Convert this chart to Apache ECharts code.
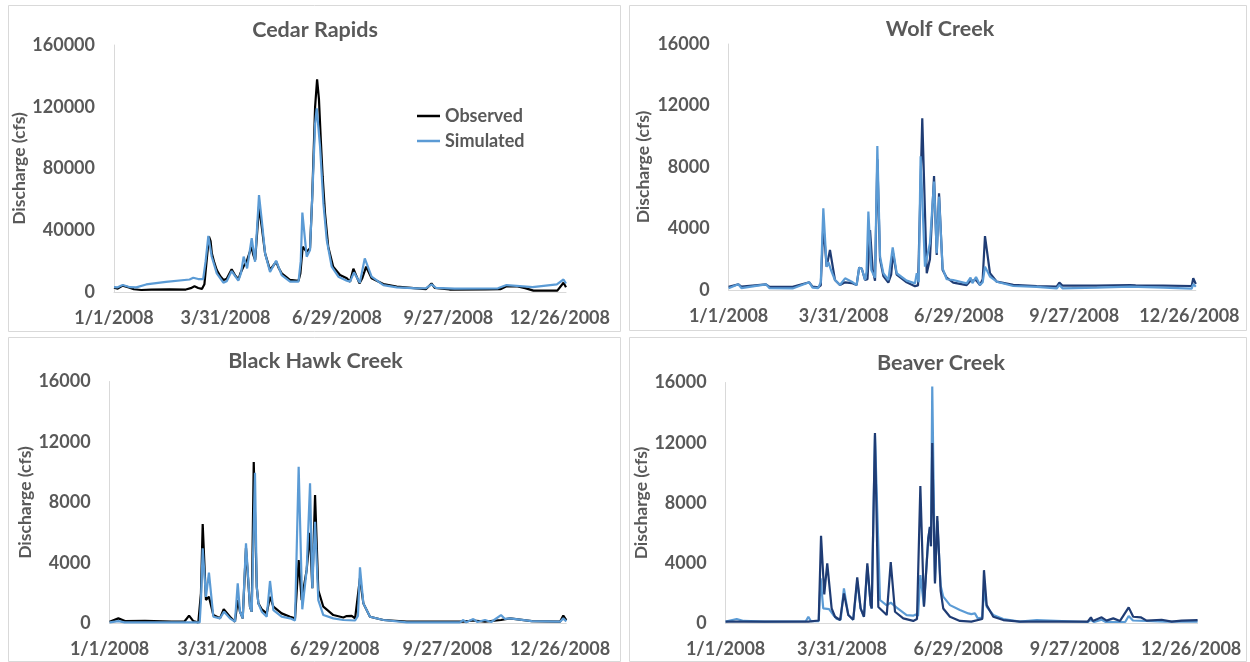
<!DOCTYPE html>
<html>
<head>
<meta charset="utf-8">
<script src="https://cdn.jsdelivr.net/npm/echarts@6/dist/echarts.min.js"></script>
<style>
  html, body { margin: 0; padding: 0; background: #fff; }
  #chart { width: 1250px; height: 662px; }
</style>
</head>
<body>
<div id="chart"></div>
<script>
// x values are day of year (0 = 1/1/2008), y values are discharge in cfs
const tickDays = [0, 90, 180, 270, 360];
const tickLabels = ['1/1/2008', '3/31/2008', '6/29/2008', '9/27/2008', '12/26/2008'];

const cedarObs = [[0,2800],[3,2200],[7,4100],[12,3000],[16,1800],[22,1300],[30,1500],[45,1700],[58,1600],[62,2500],[65,3700],[68,2600],[71,2000],[73,5000],[75,22000],[76.7,35800],[78,33000],[79,25000],[81,19000],[83,14200],[86,10000],[88.5,7800],[91,8500],[95,14700],[98,10500],[100.5,8200],[102,12000],[104.5,16400],[107,19600],[109.3,25000],[111.2,29300],[112.5,24000],[114,20700],[117.1,55300],[119.3,42300],[122,25000],[126,14250],[129,17500],[131,19600],[133,15500],[135.4,12100],[142,7800],[149,7300],[150.5,12000],[152.4,29300],[155.6,26100],[158.3,28300],[160,60000],[162.4,120000],[164,137800],[165.5,125000],[167,98500],[168.5,74700],[170.4,51000],[173,29300],[177,16400],[182.5,11000],[188,8850],[190.6,6700],[193.3,15100],[198.2,5600],[200.5,9000],[203.6,16400],[208,8850],[217.5,5200],[228.3,3450],[244.5,2400],[252,1900],[256.4,5500],[259,2700],[271,1600],[300,1700],[312,1800],[317,3700],[325,3700],[332,2500],[338.7,900],[358,900],[363,6000],[365,3100]];
const cedarSim = [[0,3100],[3,3000],[7,4500],[13,3100],[18,3000],[26,4900],[42,6600],[61,8100],[64,9200],[68,8400],[72,8400],[74,20000],[76.2,36300],[78.9,23000],[83,12100],[88.3,6000],[91,7000],[95,13600],[100.4,7300],[102.5,12000],[104.7,22900],[107.5,15300],[111.2,34800],[113.9,19600],[117.1,62800],[119.3,46600],[122,25000],[126,13000],[130.9,20300],[135.4,11000],[142.2,6700],[149,6700],[150.8,20000],[152.1,51400],[155.6,22900],[158.3,27200],[160.5,70000],[162.4,109000],[163.7,119000],[166.4,94100],[169.1,57400],[171.8,33700],[175.8,16400],[181.2,9900],[188,7300],[190.6,6700],[193.8,12700],[198.5,6000],[202.5,21800],[208,9900],[217.5,4500],[228.3,3000],[245,2400],[252,2500],[256.4,4900],[260,2700],[275,2200],[310,2400],[317,4500],[325,4000],[338,3100],[357.6,4900],[363,8100],[365,5500]];

const wolfObs = [[0,215],[7.6,370],[10,215],[29.2,370],[32,200],[50,200],[63,500],[65.6,215],[70,170],[72,300],[74,4200],[76.6,1520],[79.2,2600],[83.1,650],[87,325],[91,500],[96.2,450],[100,320],[102,1450],[104,1400],[106.6,650],[108.5,700],[110.5,3900],[112.6,1300],[114.4,600],[116.2,8500],[118.3,2000],[120.9,900],[124.8,480],[127,1000],[128.5,2400],[131.3,1000],[139.1,500],[145.6,250],[148,300],[151.3,11170],[154.8,1090],[157.3,2000],[160.5,7410],[162.6,2280],[164.4,6290],[167.2,1300],[170.4,800],[175.5,480],[186,320],[189,600],[193.3,650],[196.4,320],[198.5,700],[200.3,3510],[204.2,1090],[209.5,540],[222.4,330],[240.7,250],[256.3,215],[258.4,480],[261,280],[287.6,280],[313.6,325],[315,390],[318,300],[339.6,280],[361.8,260],[363,760],[365,390]];
const wolfSim = [[0,120],[7.6,370],[10,120],[29.2,370],[32,120],[50,100],[63,500],[65.6,150],[70,120],[72,500],[74,5310],[76.6,1500],[78,1800],[80,1300],[83.1,650],[87,325],[91,760],[96.2,540],[100,320],[102,1450],[104,1400],[106.6,650],[107.8,1200],[109.2,5100],[111.5,1300],[114.4,800],[116.2,9370],[118.3,2170],[120.9,1090],[124.8,650],[128.2,2770],[131.3,1090],[139.1,610],[145.6,430],[147,1090],[148.5,500],[150,8700],[153.4,1520],[157.3,3040],[160.5,7050],[162.6,2400],[164.4,6070],[167.2,1400],[170.4,700],[175.5,650],[186,430],[189,800],[190.5,450],[193.3,850],[196.4,320],[198.5,500],[200.3,1520],[204.2,870],[209.5,540],[222.4,260],[240.7,200],[256.3,100],[258.4,325],[261,100],[287.6,150],[313.6,215],[339.6,150],[361.8,90],[363,390],[365,215]];

const hawkObs = [[0,120],[7,340],[12.3,160],[28.3,180],[49.6,120],[60,150],[63.5,520],[66.9,160],[70.9,70],[73,2000],[74.4,6580],[77,1550],[79.4,1770],[82.9,560],[88.2,340],[91.2,940],[96.2,450],[100.2,120],[102.4,1550],[104.2,780],[106.4,340],[109,5000],[112.2,1100],[113.6,780],[115.2,10680],[117.6,2440],[118.9,1330],[121.6,940],[125.6,670],[128.2,1770],[130.9,1110],[137.5,670],[144.2,450],[148.2,340],[151.1,4200],[153.5,1550],[157.5,3540],[160.2,6000],[162,2330],[164.2,8500],[166.8,2200],[170.8,1110],[178.8,560],[186.8,400],[189.5,490],[191,400],[193.5,510],[196.2,340],[200.1,3000],[202.8,1330],[208.1,450],[218.8,230],[237.5,120],[282.7,120],[290.7,200],[300,120],[312.8,230],[320,340],[337.4,160],[360,120],[362.6,520],[365,230]];
const hawkSim = [[0,70],[7,160],[12,70],[60,70],[72,70],[73,1500],[74.4,4970],[77,1760],[79.4,3360],[82.9,450],[88.2,340],[91.5,780],[96.2,340],[100.2,120],[102.4,2660],[104.2,780],[106.4,340],[109,5300],[112.2,1100],[113.6,780],[116.2,9970],[117.6,2440],[118.9,1330],[121.6,780],[125.6,450],[128.2,2810],[130.9,890],[137.5,450],[144.2,340],[148.2,200],[151.1,10370],[154,940],[157.5,3540],[160.2,9270],[162,2330],[164.2,6730],[166.8,1550],[170.8,560],[178.8,340],[186.8,230],[196.2,200],[198.5,500],[200.1,3710],[202.8,1330],[208.1,450],[218.8,230],[237.5,80],[280,80],[282.7,230],[285,80],[290.7,290],[294,100],[300,230],[305,100],[312.8,560],[316,300],[320,340],[337.4,160],[360,120],[362.6,340],[365,140]];

const beaverObs = [[0,120],[64,120],[72,200],[73.8,5820],[76.3,1930],[78.6,3990],[82,1000],[84.6,450],[88.5,230],[91.5,2000],[94.9,560],[98.7,250],[101.8,3060],[104.4,1000],[107,450],[109.6,3990],[112.2,1220],[113,1000],[115.5,12640],[118.1,1100],[124.6,560],[127.7,4080],[131,780],[137.4,340],[145.1,170],[148,300],[150.6,9130],[153.4,1110],[156.7,5640],[158,6410],[158.8,5130],[159.8,11980],[161.9,2660],[163.7,7140],[166.3,2170],[168.3,1000],[173.5,450],[181.2,170],[190,120],[198.5,300],[199.8,3540],[201.9,1220],[207,450],[214.7,230],[227.6,120],[280,120],[282.5,410],[284,170],[290.8,410],[294.6,190],[299.8,340],[305,170],[311.7,1070],[315.2,450],[321,410],[325.6,190],[337.2,250],[345,120],[352.6,190],[365,230]];
const beaverSim = [[0,120],[8.6,300],[14,170],[30,120],[62,150],[64,450],[66,150],[72,150],[73.5,3000],[75.5,1000],[80,950],[83,600],[86,300],[89,250],[91.5,2330],[94.9,560],[98.7,250],[101.8,2800],[104.4,1000],[107,450],[109.6,3800],[112.2,1220],[113,1000],[115.5,12500],[119.4,1560],[124.6,1200],[127.7,1380],[132.3,1050],[140,560],[145,520],[147,600],[148.8,500],[150.6,3210],[153.4,1200],[156.7,5640],[158,6410],[158.8,5130],[159.8,15730],[161.9,2800],[163.7,6800],[166.3,2500],[168.3,1780],[173.5,1220],[181.2,890],[187.7,670],[190,620],[192.8,670],[195,340],[198.5,400],[199.8,2230],[201.9,1100],[207,560],[214.7,300],[227.6,120],[240.5,230],[242,100],[280,100],[282.5,250],[285,100],[290.8,250],[294,100],[309,100],[311.7,500],[315,200],[340,120],[365,120]];

const TEXT = '#595959';
const FONT = 'Lato';
const BLUE = '#5b9bd5';
const NAVY = '#1f3c74';

const panels = [
  { title: 'Cedar Rapids', grid: { left: 114, top: 45, width: 452, height: 247 }, yMax: 160000, yStep: 40000, nameGap: 82, tx: 315, ty: 30.5 },
  { title: 'Wolf Creek', grid: { left: 728.6, top: 44, width: 467.2, height: 246 }, yMax: 16000, yStep: 4000, nameGap: 76, tx: 940, ty: 29.5 },
  { title: 'Black Hawk Creek', grid: { left: 109.6, top: 381.5, width: 456.7, height: 242 }, yMax: 16000, yStep: 4000, nameGap: 75, tx: 315.5, ty: 361.5 },
  { title: 'Beaver Creek', grid: { left: 725.6, top: 382.5, width: 472, height: 241 }, yMax: 16000, yStep: 4000, nameGap: 74, tx: 941, ty: 363 }
];

const boxes = [[8, 5, 612, 326], [629, 5, 617, 325], [8, 337, 612, 324], [629, 337, 617, 324]];

const labelStyle = { color: TEXT, fontFamily: FONT, fontWeight: 'bold', fontSize: 18 };

function line(name, data, idx, color) {
  return {
    name: name, type: 'line', data: data, xAxisIndex: idx, yAxisIndex: idx,
    color: color, showSymbol: false, symbol: 'none', animation: false,
    lineStyle: { width: 2.2, color: color }
  };
}

const option = {
  backgroundColor: '#fff',
  animation: false,
  grid: panels.map(p => Object.assign({ outerBoundsMode: 'none', containLabel: false }, p.grid)),
  xAxis: panels.map((p, i) => ({
    type: 'value', gridIndex: i, min: 0, max: 365, interval: 90,
    axisLine: { show: true, lineStyle: { color: '#d9d9d9', width: 1 } },
    axisTick: { show: false },
    splitLine: { show: false },
    axisLabel: Object.assign({
      margin: 17,
      formatter: v => { const k = tickDays.indexOf(v); return k >= 0 ? tickLabels[k] : ''; }
    }, labelStyle)
  })),
  yAxis: panels.map((p, i) => ({
    type: 'value', gridIndex: i, min: 0, max: p.yMax, interval: p.yStep,
    name: 'Discharge (cfs)', nameLocation: 'middle', nameGap: p.nameGap, nameRotate: 90,
    nameTextStyle: { color: TEXT, fontFamily: FONT, fontWeight: 'bold', fontSize: 17.5 },
    axisLine: { show: true, lineStyle: { color: '#d9d9d9', width: 1 } },
    axisTick: { show: false },
    splitLine: { show: false },
    axisLabel: Object.assign({ margin: 19, formatter: v => String(v) }, labelStyle)
  })),
  legend: {
    data: ['Observed', 'Simulated'],
    orient: 'vertical', left: 417, top: 106, padding: 0,
    icon: 'rect', itemWidth: 23, itemHeight: 2.5, itemGap: 5,
    textStyle: { color: TEXT, fontFamily: FONT, fontWeight: 'bold', fontSize: 18, lineHeight: 20 }
  },
  series: [
    line('Observed', cedarObs, 0, '#000'),
    line('Simulated', cedarSim, 0, BLUE),
    line('Wolf observed', wolfObs, 1, NAVY),
    line('Wolf simulated', wolfSim, 1, BLUE),
    line('Black Hawk observed', hawkObs, 2, '#000'),
    line('Black Hawk simulated', hawkSim, 2, BLUE),
    line('Beaver simulated', beaverSim, 3, BLUE),
    line('Beaver observed', beaverObs, 3, NAVY)
  ],
  graphic: boxes.map(b => ({
    type: 'rect', z: -10, silent: true,
    shape: { x: b[0] + 0.5, y: b[1] + 0.5, width: b[2], height: b[3] },
    style: { fill: 'none', stroke: '#d9d9d9', lineWidth: 1 }
  })).concat(panels.map(p => ({
    type: 'text', x: p.tx, y: p.ty, silent: true,
    style: { text: p.title, fill: TEXT, font: 'bold 21.5px Lato', align: 'center', verticalAlign: 'middle' }
  })))
};

const chart = echarts.init(document.getElementById('chart'), null, { renderer: 'canvas' });
chart.setOption(option);
</script>
</body>
</html>
